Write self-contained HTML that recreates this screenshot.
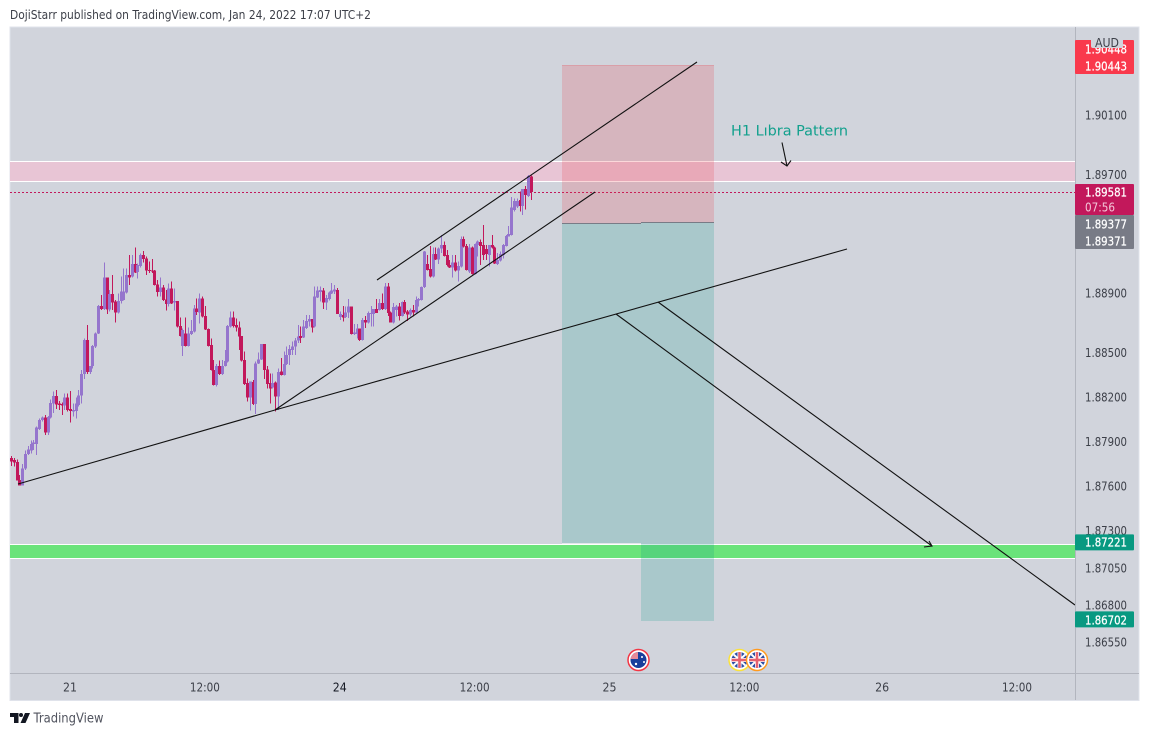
<!DOCTYPE html>
<html lang="en">
<head>
<meta charset="utf-8">
<title>GBPAUD chart</title>
<style>
html,body{margin:0;padding:0;background:#fff;width:1149px;height:736px;overflow:hidden}
svg{display:block}
text{font-family:"DejaVu Sans","Liberation Sans",sans-serif}
</style>
</head>
<body>
<svg id="chart" xmlns="http://www.w3.org/2000/svg" width="1149" height="736" viewBox="0 0 1149 736">
  <rect x="0" y="0" width="1149" height="736" fill="#ffffff"/>
  <text x="10" y="19" font-size="12" fill="#3c3f48" textLength="361" lengthAdjust="spacingAndGlyphs">DojiStarr published on TradingView.com, Jan 24, 2022 17:07 UTC+2</text>
  <rect x="10" y="27" width="1129" height="673.5" fill="#d1d4dc" stroke="#e0e3eb" stroke-width="1"/>

  <g>
    <rect x="10" y="161.5" width="1065" height="19.5" fill="#e8c5d5"/>
    <rect x="10" y="161" width="1065" height="1" fill="#ffffff"/>
    <rect x="10" y="181" width="1065" height="1" fill="#ffffff"/>
  </g>
  <g>
    <rect x="10" y="544" width="1065" height="14" fill="#6ae37a"/>
    <rect x="10" y="544" width="1065" height="1" fill="#ffffff"/>
    <rect x="10" y="558" width="1065" height="1" fill="#ffffff"/>
  </g>

  <line x1="10" y1="192.5" x2="1075" y2="192.5" stroke="#c2185b" stroke-width="1" stroke-dasharray="2 2"/>

  <g id="candles" shape-rendering="crispEdges"></g>

  <g>
    <rect x="562" y="65" width="152" height="158" fill="rgba(235,60,70,.2)"/>
    <rect x="562" y="65" width="152" height="1" fill="rgba(235,60,70,.18)"/>
    <rect x="562" y="223" width="152" height="320" fill="rgba(10,155,135,.2)"/>
    <rect x="641" y="543" width="73" height="78" fill="rgba(10,155,135,.2)"/>
    <rect x="562" y="543" width="79" height="1" fill="#e4e6ea"/>
    <rect x="562" y="223" width="79" height="1" fill="#787b86"/>
    <rect x="641" y="222" width="73" height="1" fill="#787b86"/>
  </g>

  <g stroke="#111" stroke-width="1.1" fill="none">
    <line x1="18" y1="484" x2="275" y2="410"/>
    <line x1="275" y1="410" x2="847" y2="249"/>
    <line x1="275" y1="410" x2="595" y2="192"/>
    <line x1="377" y1="280" x2="697" y2="62"/>
    <line x1="616" y1="314" x2="932" y2="546"/>
    <path d="M924 547 L932 546 L929 541"/>
    <line x1="658" y1="302" x2="1075" y2="605"/>
    <line x1="782" y1="142.5" x2="787" y2="166"/>
    <path d="M781 162 L787 166 L791 160.5"/>
  </g>
  <text x="731" y="135.5" font-size="14.5" fill="#12a08d" textLength="117" lengthAdjust="spacingAndGlyphs">H1 Lıbra Pattern</text>

  <g>
    <clipPath id="clipAu"><circle cx="638.5" cy="660" r="8"/></clipPath>
    <clipPath id="clipUk1"><circle cx="739.5" cy="660" r="8"/></clipPath>
    <clipPath id="clipUk2"><circle cx="757" cy="660" r="8"/></clipPath>
    <g>
      <circle cx="638.5" cy="660" r="10.5" fill="#fff" stroke="#f23645" stroke-width="1.5"/>
      <g clip-path="url(#clipAu)">
        <rect x="630" y="651" width="18" height="18" fill="#1a3f9c"/>
        <rect x="630" y="652" width="8" height="7" fill="#e88a98"/>
        <circle cx="642" cy="657" r="1" fill="#fff"/>
        <circle cx="644" cy="662" r="1" fill="#fff"/>
        <circle cx="636" cy="664" r="1.2" fill="#fff"/>
      </g>
    </g>
    <g>
      <circle cx="739.5" cy="660" r="10.5" fill="#fff" stroke="#fbe23a" stroke-width="1.5"/>
      <g clip-path="url(#clipUk1)">
        <rect x="731" y="651" width="18" height="18" fill="#2c4fa3"/>
        <path d="M731 652 L748 668 M748 652 L731 668" stroke="#fff" stroke-width="2"/>
        <rect x="737.5" y="651" width="4" height="18" fill="#fff"/>
        <rect x="731" y="658" width="18" height="4" fill="#fff"/>
        <rect x="738.2" y="651" width="2.6" height="18" fill="#e5616f"/>
        <rect x="731" y="658.7" width="18" height="2.6" fill="#e5616f"/>
      </g>
    </g>
    <g>
      <circle cx="757" cy="660" r="10.5" fill="#fff" stroke="#ff9a1f" stroke-width="1.5"/>
      <g clip-path="url(#clipUk2)">
        <rect x="748" y="651" width="18" height="18" fill="#2c4fa3"/>
        <path d="M749 652 L765 668 M765 652 L749 668" stroke="#fff" stroke-width="2"/>
        <rect x="755" y="651" width="4" height="18" fill="#fff"/>
        <rect x="748" y="658" width="18" height="4" fill="#fff"/>
        <rect x="755.7" y="651" width="2.6" height="18" fill="#e5616f"/>
        <rect x="748" y="658.7" width="18" height="2.6" fill="#e5616f"/>
      </g>
    </g>
  </g>

  <rect x="1075" y="27" width="1" height="673" fill="#b2b5be"/>
  <rect x="10" y="673" width="1129" height="1" fill="#b2b5be"/>
  <g id="priceTicks"></g>
  <g id="timeTicks"></g>
  <g id="priceTags"></g>

  <rect x="1091" y="36" width="32" height="12" rx="2" fill="#d1d4dc"/>
  <text x="1107" y="47" font-size="12" fill="#3c3f48" text-anchor="middle" textLength="24" lengthAdjust="spacingAndGlyphs">AUD</text>

  <g>
    <path fill="#131722" d="M10 713 H18.5 V723 H14 V717 H10 Z M25 713 H30 L25.5 723 H20.5 Z"/>
    <circle cx="21" cy="715" r="2" fill="#131722"/>
    <text x="33.5" y="722.5" font-size="13" fill="#50535e" textLength="70" lengthAdjust="spacingAndGlyphs">TradingView</text>
  </g>
</svg>
<script>
var opens = [
1.87788,1.87776,1.87761,1.87642,1.87604,1.87720,1.87817,1.87839,1.87884,1.87884,
1.87985,1.88046,1.88061,1.87960,1.88061,1.88158,1.88207,1.88158,1.88153,1.88142,
1.88198,1.88120,1.88102,1.88106,1.88147,1.88212,1.88356,1.88585,1.88369,1.88409,
1.88540,1.88629,1.88814,1.88793,1.89004,1.88791,1.88894,1.88843,1.88769,1.88847,
1.88854,1.88903,1.89022,1.89011,1.89096,1.89042,1.89083,1.89157,1.89135,1.89056,
1.89051,1.89051,1.88959,1.88906,1.88937,1.88858,1.88827,1.88932,1.88836,1.88847,
1.88679,1.88544,1.88629,1.88544,1.88625,1.88641,1.88798,1.88771,1.88865,1.88746,
1.88659,1.88549,1.88382,1.88281,1.88409,1.88356,1.88409,1.88439,1.88674,1.88737,
1.88686,1.88670,1.88611,1.88450,1.88293,1.88198,1.88302,1.88153,1.88427,1.88454,
1.88558,1.88387,1.88293,1.88264,1.88297,1.88203,
1.88372,1.88349,1.88421,1.88484,1.88518,1.88540,1.88581,1.88612,1.88601,1.88664,
1.88709,1.88726,1.88675,1.88872,1.88908,1.88917,1.88836,1.88859,1.88899,1.88911,
1.88922,1.88738,1.88753,1.88738,1.88771,1.88810,1.88625,1.88625,1.88661,1.88585,
1.88720,1.88702,1.88760,1.88760,1.88794,1.88787,1.88832,1.88792,1.88944,1.88769,
1.88702,1.88787,1.88810,1.88747,1.88841,1.88778,1.88756,1.88787,1.88769,1.88850,
1.88854,1.88940,1.89097,1.89061,1.89012,1.89164,1.89128,1.89202,1.89225,1.89157,
1.89090,1.89072,1.89108,1.89052,1.89079,1.89265,1.89218,1.89045,1.89209,1.89030,
1.89225,1.89245,1.89223,1.89198,1.89157,1.89225,1.89209,1.89097,1.89119,1.89157,
1.89218,1.89281,1.89292,1.89461,1.89483,1.89528,1.89488,1.89602,1.89555,1.89685];

var highs = [
1.87803,1.87788,1.87781,1.87675,1.87749,1.87839,1.87871,1.87907,1.87911,1.88001,
1.88057,1.88068,1.88079,1.88073,1.88185,1.88237,1.88248,1.88174,1.88165,1.88225,
1.88225,1.88241,1.88158,1.88198,1.88248,1.88382,1.88596,1.88686,1.88409,1.88551,
1.88634,1.88820,1.88888,1.89105,1.89004,1.88921,1.89022,1.88854,1.88899,1.89011,
1.89067,1.89067,1.89157,1.89157,1.89209,1.89101,1.89168,1.89184,1.89146,1.89112,
1.89130,1.89056,1.88989,1.89004,1.88955,1.88921,1.88966,1.88977,1.88932,1.88847,
1.88737,1.88663,1.88737,1.88670,1.88719,1.88820,1.88865,1.88899,1.88876,1.88814,
1.88663,1.88596,1.88450,1.88423,1.88445,1.88450,1.88517,1.88686,1.88775,1.88775,
1.88730,1.88708,1.88611,1.88506,1.88326,1.88304,1.88315,1.88439,1.88499,1.88558,
1.88558,1.88409,1.88360,1.88360,1.88304,1.88394,
1.88462,1.88506,1.88540,1.88551,1.88574,1.88597,1.88686,1.88675,1.88720,1.88753,
1.88753,1.88726,1.88944,1.88944,1.88944,1.88933,1.88888,1.88911,1.88967,1.88956,
1.88933,1.88776,1.88814,1.88810,1.88859,1.88810,1.88691,1.88691,1.88661,1.88731,
1.88747,1.88776,1.88814,1.88794,1.88859,1.88859,1.88899,1.88967,1.88967,1.88776,
1.88832,1.88821,1.88832,1.88843,1.88854,1.88787,1.88798,1.88821,1.88877,1.88866,
1.88944,1.89184,1.89157,1.89218,1.89209,1.89209,1.89209,1.89292,1.89247,1.89191,
1.89124,1.89157,1.89157,1.89113,1.89281,1.89281,1.89232,1.89232,1.89214,1.89236,
1.89254,1.89263,1.89360,1.89225,1.89225,1.89292,1.89214,1.89169,1.89180,1.89232,
1.89292,1.89353,1.89546,1.89539,1.89539,1.89584,1.89602,1.89622,1.89696,1.89694];

var lows = [
1.87736,1.87731,1.87637,1.87604,1.87604,1.87709,1.87810,1.87821,1.87844,1.87810,
1.87978,1.88035,1.87945,1.87945,1.88057,1.88091,1.88118,1.88113,1.88079,1.88113,
1.88102,1.88028,1.88068,1.88057,1.88136,1.88158,1.88320,1.88356,1.88356,1.88394,
1.88529,1.88625,1.88787,1.88787,1.88760,1.88775,1.88787,1.88701,1.88764,1.88831,
1.88849,1.88899,1.88955,1.89007,1.89034,1.89000,1.89074,1.89105,1.89022,1.89034,
1.89034,1.88950,1.88876,1.88876,1.88847,1.88782,1.88809,1.88827,1.88782,1.88670,
1.88607,1.88477,1.88540,1.88540,1.88618,1.88636,1.88753,1.88697,1.88737,1.88652,
1.88540,1.88378,1.88277,1.88270,1.88349,1.88349,1.88405,1.88434,1.88670,1.88670,
1.88641,1.88517,1.88439,1.88281,1.88169,1.88109,1.88147,1.88086,1.88423,1.88450,
1.88320,1.88259,1.88158,1.88259,1.88102,1.88113,
1.88345,1.88345,1.88417,1.88417,1.88484,1.88484,1.88563,1.88563,1.88597,1.88659,
1.88675,1.88634,1.88670,1.88866,1.88843,1.88794,1.88787,1.88850,1.88895,1.88895,
1.88758,1.88720,1.88709,1.88731,1.88731,1.88623,1.88619,1.88596,1.88578,1.88581,
1.88664,1.88697,1.88675,1.88675,1.88765,1.88783,1.88787,1.88787,1.88747,1.88702,
1.88697,1.88742,1.88715,1.88742,1.88760,1.88713,1.88742,1.88742,1.88765,1.88810,
1.88850,1.88935,1.89052,1.89007,1.89007,1.89124,1.89097,1.89169,1.89146,1.89079,
1.89068,1.89007,1.89045,1.88978,1.89074,1.89209,1.89052,1.89034,1.89025,1.89025,
1.89146,1.89090,1.89124,1.89124,1.89079,1.89202,1.89095,1.89090,1.89113,1.89135,
1.89214,1.89281,1.89288,1.89449,1.89472,1.89449,1.89427,1.89465,1.89546,1.89528];

var closes = [
1.87765,1.87758,1.87637,1.87604,1.87720,1.87817,1.87848,1.87884,1.87893,1.87994,
1.88046,1.88061,1.87960,1.88064,1.88160,1.88207,1.88151,1.88147,1.88142,1.88198,
1.88113,1.88106,1.88113,1.88158,1.88212,1.88356,1.88585,1.88369,1.88409,1.88544,
1.88629,1.88814,1.88793,1.89004,1.88791,1.88894,1.88836,1.88769,1.88847,1.88910,
1.88910,1.89022,1.89007,1.89096,1.89040,1.89090,1.89157,1.89130,1.89051,1.89049,
1.89045,1.88955,1.88906,1.88937,1.88854,1.88827,1.88932,1.88831,1.88847,1.88674,
1.88611,1.88652,1.88544,1.88629,1.88645,1.88798,1.88773,1.88865,1.88742,1.88656,
1.88544,1.88382,1.88281,1.88409,1.88356,1.88409,1.88443,1.88679,1.88737,1.88679,
1.88670,1.88607,1.88445,1.88288,1.88198,1.88304,1.88153,1.88427,1.88454,1.88558,
1.88382,1.88288,1.88259,1.88293,1.88203,1.88369,
1.88349,1.88421,1.88484,1.88524,1.88540,1.88581,1.88608,1.88599,1.88675,1.88713,
1.88726,1.88670,1.88877,1.88917,1.88922,1.88836,1.88866,1.88904,1.88917,1.88926,
1.88760,1.88760,1.88735,1.88771,1.88810,1.88625,1.88634,1.88661,1.88585,1.88720,
1.88702,1.88765,1.88765,1.88794,1.88765,1.88832,1.88794,1.88944,1.88765,1.88702,
1.88805,1.88810,1.88747,1.88841,1.88769,1.88756,1.88787,1.88769,1.88854,1.88859,
1.88940,1.89180,1.89057,1.89012,1.89164,1.89128,1.89202,1.89225,1.89151,1.89090,
1.89072,1.89108,1.89052,1.89083,1.89265,1.89214,1.89057,1.89209,1.89030,1.89232,
1.89247,1.89218,1.89157,1.89162,1.89225,1.89209,1.89099,1.89124,1.89164,1.89225,
1.89286,1.89299,1.89476,1.89521,1.89521,1.89488,1.89602,1.89562,1.89690,1.89581];

var priceTickValues = [1.90100,1.89700,1.88900,1.88500,1.88200,1.87900,1.87600,1.87300,1.87050,1.86800,1.86550];
var timeTickLabels = ["21","12:00","24","12:00","25","12:00","26","12:00"];
var timeTickBars = [21,69,117,165,213,261,310,358];
var tagPrices = [1.90448,1.90443,1.89581,1.89377,1.89371,1.87221,1.86702];
var tagColors = ["#f9394c","#f9394c","#c2185b","#787b86","#787b86","#089981","#089981"];

var SVGNS = "http://www.w3.org/2000/svg";
function yOf(p){ return 115 + (1.90100 - p) * 14845; }
function xOf(i){ return 11 + i * 2.81; }
function candleColor(i){ return closes[i] >= opens[i] ? "#9575cd" : "#c2185b"; }

var candleGroup = document.getElementById("candles");
for (var i = 0; i < closes.length; i++) {
  var wick = document.createElementNS(SVGNS, "rect");
  
  
  wick.setAttribute("x", Math.round(xOf(i)));
  wick.setAttribute("y", yOf(highs[i]));
  wick.setAttribute("width", 1);
  wick.setAttribute("height", Math.max(1, yOf(lows[i]) - yOf(highs[i])));
  wick.setAttribute("fill", candleColor(i));
  candleGroup.appendChild(wick);
}
for (var j = 0; j < closes.length; j++) {
  var body = document.createElementNS(SVGNS, "rect");
  
  
  body.setAttribute("x", Math.round(xOf(j)) - 1);
  body.setAttribute("y", yOf(Math.max(opens[j], closes[j])));
  body.setAttribute("width", 3);
  body.setAttribute("height", Math.max(1, Math.abs(yOf(opens[j]) - yOf(closes[j]))));
  body.setAttribute("fill", candleColor(j));
  candleGroup.appendChild(body);
}

var priceGroup = document.getElementById("priceTicks");
priceTickValues.forEach(function (p) {
  var t = document.createElementNS(SVGNS, "text");
  
  
  t.setAttribute("x", 1085);
  t.setAttribute("y", yOf(p) + 4.5);
  t.setAttribute("font-size", "12");
  t.setAttribute("fill", "#3c3f48");
  t.setAttribute("textLength", "42");
  t.setAttribute("lengthAdjust", "spacingAndGlyphs");
  t.textContent = p.toFixed(5);
  priceGroup.appendChild(t);
});

var timeGroup = document.getElementById("timeTicks");
timeTickLabels.forEach(function (label, k) {
  var t = document.createElementNS(SVGNS, "text");
  
  
  t.setAttribute("x", xOf(timeTickBars[k]));
  t.setAttribute("y", 691.5);
  t.setAttribute("font-size", "12");
  t.setAttribute("text-anchor", "middle");
  t.setAttribute("fill", label === "24" ? "#131722" : "#3c3f48");
  t.setAttribute("textLength", label.length === 5 ? "30" : "14");
  t.setAttribute("lengthAdjust", "spacingAndGlyphs");
  t.textContent = label;
  timeGroup.appendChild(t);
});

var tagGroup = document.getElementById("priceTags");
var tagGroupsSpec = [[0,2],[2,3],[3,5],[5,6],[6,7]];
tagGroupsSpec.forEach(function (span) {
  var a = span[0], b = span[1];
  var pad = 8;
  var extra = (a === 2) ? 15 : 0;
  var top = yOf(tagPrices[a]) - pad;
  var bottom = yOf(tagPrices[b - 1]) + pad + extra;
  if (a === 0) { top = 40; bottom = 74; }
  if (a === 2) { top = 184; bottom = 215; }
  if (a === 3) { top = 215; bottom = 249; }
  var r = document.createElementNS(SVGNS, "rect");
  
  
  r.setAttribute("x", 1075);
  r.setAttribute("y", top);
  r.setAttribute("width", 59);
  r.setAttribute("height", bottom - top);
  r.setAttribute("rx", 1);
  r.setAttribute("fill", tagColors[a]);
  tagGroup.appendChild(r);
});
var tagTextY = [49, 66, 192, 224, 241, 542, 620];
tagPrices.forEach(function (p, k) {
  var t = document.createElementNS(SVGNS, "text");
  
  
  t.setAttribute("x", 1085);
  t.setAttribute("y", tagTextY[k] + 4.5);
  t.setAttribute("font-size", "12");
  t.setAttribute("fill", "#ffffff");
  t.setAttribute("stroke", "#ffffff");
  t.setAttribute("stroke-width", "0.25");
  t.setAttribute("textLength", "42");
  t.setAttribute("lengthAdjust", "spacingAndGlyphs");
  t.textContent = p.toFixed(5);
  tagGroup.appendChild(t);
});
var countdown = document.createElementNS(SVGNS, "text");


countdown.setAttribute("x", 1085);
countdown.setAttribute("y", 211.5);
countdown.setAttribute("font-size", "12");
countdown.setAttribute("fill", "#f3c6d8");
countdown.setAttribute("textLength", "30");
countdown.setAttribute("lengthAdjust", "spacingAndGlyphs");
countdown.textContent = "07:56";
tagGroup.appendChild(countdown);
</script>
</body>
</html>
